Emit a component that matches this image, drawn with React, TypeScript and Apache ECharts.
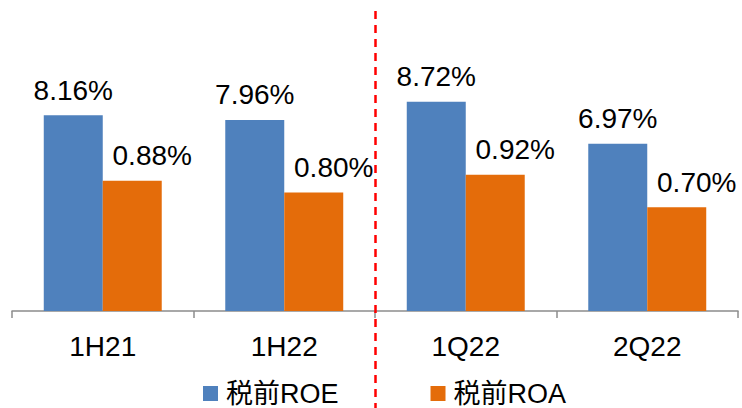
import React, { useEffect, useRef } from "react";
import * as echarts from "echarts";

const categories = ["1H21", "1H22", "1Q22", "2Q22"];
const roe = [8.16, 7.96, 8.72, 6.97];
const roa = [0.88, 0.8, 0.92, 0.7];
const seriesNames = ["税前ROE", "税前ROA"];

const FONT = "'Liberation Sans', Arial, 'Noto Sans CJK SC', sans-serif";

export default function App() {
  const ref = useRef<HTMLDivElement>(null);
  useEffect(() => {
    if (!ref.current) return;
    const chart = echarts.init(ref.current, undefined, { renderer: "svg" });
    const labelStyle = {
      show: true,
      position: "top" as const,
      distance: 11,
      fontSize: 28,
      lineHeight: 28,
      color: "#000",
      fontFamily: FONT,
      formatter: (p: any) => Number(p.value).toFixed(2) + "%",
    };
    chart.setOption({
      animation: false,
      backgroundColor: "#fff",
      grid: { left: 12, right: 4, top: 71, bottom: 97, containLabel: false },
      legend: {
        data: seriesNames,
        left: 203,
        top: 380,
        padding: 0,
        itemWidth: 15,
        itemHeight: 15,
        itemGap: 92,
        icon: "rect",
        textStyle: { fontSize: 27, lineHeight: 24, color: "#000", fontFamily: FONT, padding: [0, 0, 0, 3] },
      },
      xAxis: {
        type: "category",
        data: categories,
        axisLine: { show: true, lineStyle: { color: "#8c8c8c", width: 1.5 } },
        axisTick: { show: true, length: 7, alignWithLabel: false, lineStyle: { color: "#8c8c8c", width: 1.5 } },
        axisLabel: { fontSize: 28, lineHeight: 28, color: "#000", fontFamily: FONT, margin: 21 },
      },
      yAxis: [
        { type: "value", min: 0, max: 10, show: false, splitLine: { show: false } },
        { type: "value", min: 0, max: 1.62, show: false, splitLine: { show: false } },
      ],
      series: [
        {
          name: seriesNames[0],
          type: "bar",
          yAxisIndex: 0,
          data: roe,
          barGap: "0%",
          barCategoryGap: "35%",
          itemStyle: { color: "#4F81BD" },
          label: labelStyle,
        },
        {
          name: seriesNames[1],
          type: "bar",
          yAxisIndex: 1,
          data: roa,
          barGap: "0%",
          barCategoryGap: "35%",
          itemStyle: { color: "#E46C0A" },
          label: { ...labelStyle, offset: [20, 0] },
        },
      ],
      graphic: [
        {
          type: "line",
          shape: { x1: 375.5, y1: 11, x2: 375.5, y2: 408 },
          style: { stroke: "#FF0000", lineWidth: 2.5, lineDash: [8, 6] },
          z: 100,
        },
      ],
    });
    return () => chart.dispose();
  }, []);
  return <div ref={ref} style={{ width: 742, height: 408, position: "absolute", left: 0, top: 0 }} />;
}
